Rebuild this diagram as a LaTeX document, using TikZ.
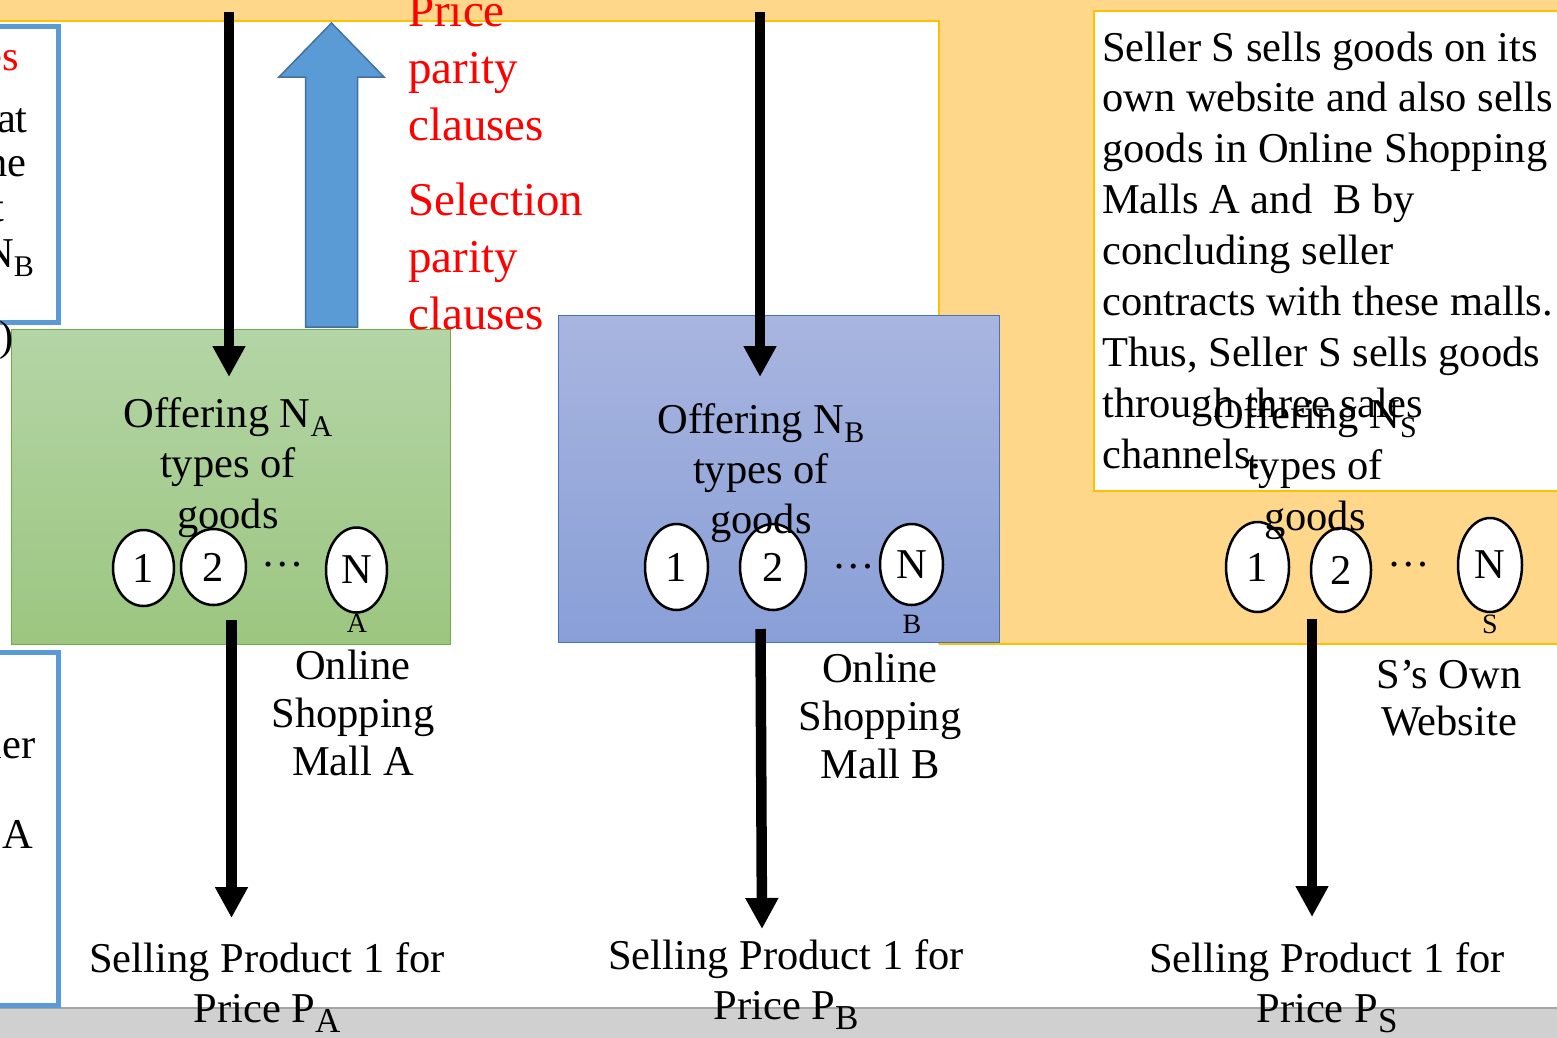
\documentclass[tikz,border=0pt]{standalone}
\usepackage{fontspec}
\setmainfont{Liberation Serif}
\usetikzlibrary{arrows.meta,shapes.geometric}

\definecolor{bandfill}{HTML}{FFD78A}
\definecolor{goldline}{HTML}{FFC000}
\definecolor{sideblue}{HTML}{5B9BD5}
\definecolor{greentop}{HTML}{B4D5A6}
\definecolor{greenbot}{HTML}{9CC680}
\definecolor{greenline}{HTML}{70AD47}
\definecolor{bluetop}{HTML}{A8B5DF}
\definecolor{bluebot}{HTML}{899FD7}
\definecolor{blueline}{HTML}{4472C4}
\definecolor{arrowfill}{HTML}{5B9BD5}
\definecolor{arrowline}{HTML}{41719C}
\definecolor{footfill}{HTML}{D0D0D0}
\definecolor{footline}{HTML}{A6A6A6}

% lowered subscript: size, drop, text
\newcommand\lowsub[3]{\raisebox{-#2pt}{\fontsize{#1}{#1}\selectfont #3}}
% stacked lines with a fixed baseline distance; base = first line
\newcommand\cstack[2]{{\baselineskip=#1pt\lineskiplimit=-200pt\vtop{\halign{\hfil##\hfil\cr#2\crcr}}}}
\newcommand\lstack[2]{{\baselineskip=#1pt\lineskiplimit=-200pt\vtop{\halign{##\hfil\cr#2\crcr}}}}

\tikzset{
  body/.style={inner sep=0pt, font=\fontsize{42.5}{51}\selectfont},
  redtxt/.style={inner sep=0pt, text=red, font=\fontsize{47}{57}\selectfont},
  good/.style={ellipse, draw=black, line width=2.5pt, fill=white, inner sep=0pt,
    font=\fontsize{42.5}{51}\selectfont},
  subtag/.style={inner sep=0pt, anchor=base, font=\fontsize{28}{30}\selectfont},
  dots/.style={inner sep=0pt, anchor=base, font=\fontsize{42.5}{51}\selectfont},
  flow/.style={line width=10.5pt, -{Triangle[width=31pt,length=31pt]}},
  sidebox/.style={draw=sideblue, line width=5pt, fill=white},
  mallbox/.style={anchor=north west, inner sep=0pt},
}

\begin{document}
\begin{tikzpicture}[x=1pt,y=-1pt]
\useasboundingbox (0,0) rectangle (1557,1037);
\clip (0,0) rectangle (1557,1037);

% backdrop: orange band, white work area, grey footer
\fill[bandfill] (-5,-5) rectangle (1565,644);
\draw[goldline, line width=1.5pt] (-5,644) -- (1565,644);
\fill[white] (-5,21) rectangle (939,1045);
\draw[goldline, line width=1.5pt] (-5,21) -- (939,21) -- (939,644);
\fill[footfill] (-5,1008) rectangle (1565,1045);
\draw[footline, line width=1.5pt] (-5,1008) -- (1565,1008);

% description box of seller S
\draw[goldline, line width=2pt, fill=white] (1094,11) rectangle (1575,491);

% side boxes cut by the left edge
\draw[sidebox] (-10,26) rectangle (58,322.5);
\draw[sidebox] (-10,652.5) rectangle (58,1005.5);

% the two shopping malls
\node[mallbox, draw=greenline, line width=1pt, top color=greentop, bottom color=greenbot,
  minimum width=439pt, minimum height=315pt] (mallA) at (11,329) {};
\node[mallbox, draw=blueline, line width=1pt, top color=bluetop, bottom color=bluebot,
  minimum width=441pt, minimum height=327pt] (mallB) at (558,315) {};

% parity clauses arrow
\draw[arrowline, fill=arrowfill, line width=1.5pt]
  (305.5,327) -- (305.5,77) -- (279,77) -- (331.5,23) -- (384,77)
  -- (357.5,77) -- (357.5,327) -- cycle;

% left fragments
\node[body, text=red, anchor=base east] (fragA) at (19,70) {es};
\node[body, anchor=base east] (fragB) at (28,132) {at};
\node[body, anchor=base east] (fragC) at (27,176) {ne};
\node[body, anchor=base east] (fragD) at (5,221) {t};
\node[body, anchor=base east] (fragE) at (34,267) {N\lowsub{30}{9}{B}};
\node[body, anchor=base east] (fragF) at (14,350) {s)};
\node[body, anchor=base east] (fragG) at (36,758) {ler};
\node[body, anchor=base east] (fragH) at (33,848) {A};

% goods of mall A
\node[good, minimum width=61pt, minimum height=76pt] (a1) at (143.5,568) {1};
\node[good, minimum width=65pt, minimum height=76pt] (a2) at (213.5,567) {2};
\node[good, minimum width=61pt, minimum height=85pt] (aN) at (356.5,570) {N};
\node[dots] (adots) at (282.5,566) {…};
\node[subtag] (aNsub) at (357,632) {A};

% goods of mall B
\node[good, minimum width=63pt, minimum height=86pt] (b1) at (676.5,567) {1};
\node[good, minimum width=66pt, minimum height=86pt] (b2) at (773,567) {2};
\node[good, minimum width=63pt, minimum height=81pt] (bN) at (911.5,564.5) {N};
\node[dots] (bdots) at (854,568) {…};
\node[subtag] (bNsub) at (912,633) {B};

% goods of S's own website
\node[good, minimum width=63pt, minimum height=90pt] (s1) at (1257.5,567) {1};
\node[good, minimum width=60pt, minimum height=84pt] (s2) at (1341,570) {2};
\node[good, minimum width=64pt, minimum height=94pt] (sN) at (1490,565) {N};
\node[dots] (sdots) at (1408.5,566) {…};
\node[subtag] (sNsub) at (1490,633) {S};

% texts
\node[redtxt, anchor=base west] (price) at (408,26) {\lstack{57}{Price\cr parity\cr clauses}};
\node[redtxt, anchor=base west] (select) at (408,215) {\lstack{57}{Selection\cr parity\cr clauses}};

\node[body, anchor=base west] (seller) at (1102,61) {\lstack{50.9}{Seller S sells goods on its\cr
  own website and also sells\cr goods in Online Shopping\cr Malls A and\ \ B by\cr
  concluding seller\cr contracts with these malls.\cr Thus, Seller S sells goods\cr
  through three sales\cr channels.}};

\node[body, anchor=base] (offerA) at (228,427) {\cstack{50.5}{Offering N\lowsub{30}{9}{A}\cr types of\cr goods}};
\node[body, anchor=base] (offerB) at (761,433) {\cstack{50}{Offering N\lowsub{30}{9}{B}\cr types of\cr goods}};
\node[body, anchor=base] (offerS) at (1315,428) {\cstack{51}{Offering N\lowsub{30}{9}{S}\cr types of\cr goods}};

\node[body, anchor=base] (nameA) at (353,679) {\cstack{48}{Online\cr Shopping\cr Mall A}};
\node[body, anchor=base] (nameB) at (880,682) {\cstack{48}{Online\cr Shopping\cr Mall B}};
\node[body, anchor=base] (nameS) at (1449,688) {\cstack{47}{S’s Own\cr Website}};

\node[body, anchor=base] (sellA) at (267,972) {\cstack{50}{Selling Product 1 for\cr Price P\lowsub{35}{10}{A}}};
\node[body, anchor=base] (sellB) at (786,969) {\cstack{50}{Selling Product 1 for\cr Price P\lowsub{35}{10}{B}}};
\node[body, anchor=base] (sellS) at (1327,972) {\cstack{50}{Selling Product 1 for\cr Price P\lowsub{35}{10}{S}}};

% flow arrows
\coordinate (inA) at (229,12);   \coordinate (inAtip) at (229,377);
\coordinate (inB) at (760,12);   \coordinate (inBtip) at (760,377);
\coordinate (outA) at (231.5,620); \coordinate (outAtip) at (231.5,918);
\coordinate (outB) at (760.5,629); \coordinate (outBtip) at (762,929);
\coordinate (outS) at (1312,619); \coordinate (outStip) at (1312,917);
\draw[flow] (inA) -- (inAtip);
\draw[flow] (inB) -- (inBtip);
\draw[flow] (outA) -- (outAtip);
\draw[flow] (outB) -- (outBtip);
\draw[flow] (outS) -- (outStip);
\end{tikzpicture}
\end{document}
